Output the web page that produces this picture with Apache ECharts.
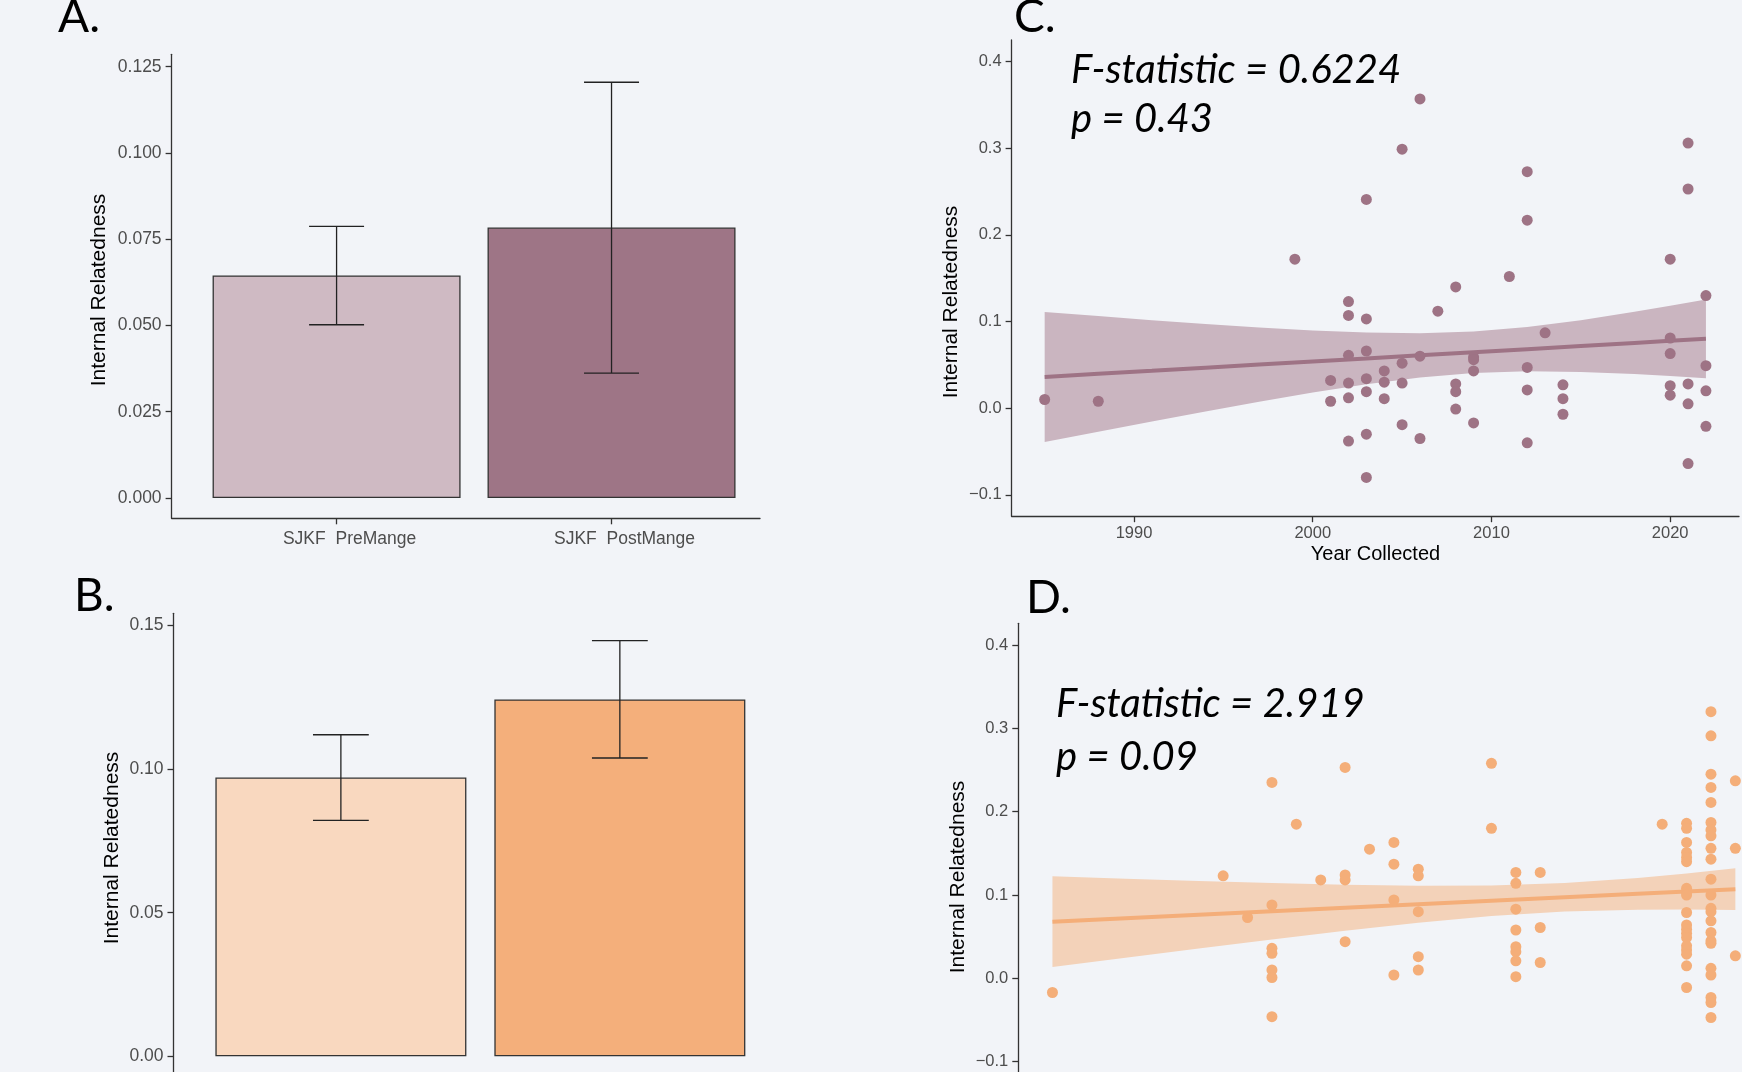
<!DOCTYPE html>
<html>
<head>
<meta charset="utf-8">
<script src="https://cdn.jsdelivr.net/npm/echarts@6/dist/echarts.min.js"></script>
<style>html,body{margin:0;padding:0;background:#f2f4f8;}#c{width:1742px;height:1072px;}</style>
</head>
<body>
<div id="c"></div>
<script>
// ---------- DATA ----------
const barCats = ['SJKF  PreMange', 'SJKF  PostMange'];
const aMean = [0.0645, 0.0784];
const aLo = [0.0502, 0.0362];
const aHi = [0.0787, 0.1205];
const bMean = [0.0971, 0.1243];
const bLo = [0.0822, 0.1039];
const bHi = [0.1120, 0.1448];

const aTicks = [0, 0.025, 0.05, 0.075, 0.1, 0.125];
const bTicks = [0, 0.05, 0.10, 0.15];
const cdYTicks = [-0.1, 0, 0.1, 0.2, 0.3, 0.4];
const cXTicks = [1990, 2000, 2010, 2020];

// Panel C points, grouped by year
const cYears = [1985, 1988, 1999, 2001, 2002, 2003, 2004, 2005, 2006, 2007, 2008, 2009, 2011, 2012, 2013, 2014, 2020, 2021, 2022];
const cValues = [
  [0.010],
  [0.008],
  [0.172],
  [0.032, 0.008],
  [0.123, 0.107, 0.061, 0.029, 0.012, -0.038],
  [0.241, 0.103, 0.066, 0.034, 0.019, -0.030, -0.080],
  [0.043, 0.030, 0.011],
  [0.299, 0.052, 0.029, -0.019],
  [0.357, 0.060, -0.035],
  [0.112],
  [0.140, 0.028, 0.019, -0.001],
  [0.059, 0.056, 0.043, -0.017],
  [0.152],
  [0.273, 0.217, 0.047, 0.021, -0.040],
  [0.087],
  [0.027, 0.011, -0.007],
  [0.172, 0.081, 0.063, 0.026, 0.015],
  [0.306, 0.253, 0.028, 0.005, -0.064],
  [0.130, 0.049, 0.020, -0.021]
];
// Panel C fitted line and confidence band
const cFitYear = [1985, 1988, 1991, 1994, 1997, 2000, 2003, 2006, 2009, 2012, 2015, 2018, 2020, 2022];
const cFit   = [0.0360, 0.0396, 0.0431, 0.0467, 0.0503, 0.0539, 0.0574, 0.0610, 0.0646, 0.0681, 0.0717, 0.0753, 0.0777, 0.0800];
const cUpper = [0.1111, 0.1063, 0.1016, 0.0972, 0.0932, 0.0898, 0.0873, 0.0866, 0.0886, 0.0937, 0.1016, 0.1112, 0.1182, 0.1254];
const cLower = [-0.0391, -0.0271, -0.0154, -0.0038, 0.0074, 0.0180, 0.0275, 0.0354, 0.0406, 0.0425, 0.0418, 0.0394, 0.0372, 0.0346];

// Panel D points, grouped by year
const dYears = [1994, 2001, 2002, 2003, 2004, 2005, 2006, 2007, 2008, 2009, 2012, 2013, 2014, 2019, 2020, 2021, 2022];
const dValues = [
  [-0.017],
  [0.123],
  [0.073],
  [0.235, 0.088, 0.036, 0.030, 0.010, 0.001, -0.046],
  [0.185],
  [0.118],
  [0.253, 0.124, 0.118, 0.044],
  [0.155],
  [0.163, 0.137, 0.094, 0.004],
  [0.131, 0.123, 0.080, 0.026, 0.010],
  [0.258, 0.180],
  [0.127, 0.114, 0.083, 0.058, 0.038, 0.032, 0.021, 0.002],
  [0.127, 0.061, 0.019],
  [0.185],
  [0.186, 0.180, 0.163, 0.151, 0.145, 0.140, 0.108, 0.104, 0.100, 0.079, 0.064, 0.059, 0.054, 0.049, 0.039, 0.034, 0.029, 0.015, -0.011],
  [0.320, 0.291, 0.245, 0.229, 0.211, 0.187, 0.178, 0.171, 0.156, 0.143, 0.119, 0.100, 0.084, 0.080, 0.069, 0.055, 0.045, 0.042, 0.012, 0.004, -0.023, -0.029, -0.047],
  [0.237, 0.156, 0.027]
];
const dFitYear = [1994, 1997, 2000, 2003, 2006, 2009, 2012, 2015, 2018, 2020, 2022];
const dFit   = [0.0680, 0.0722, 0.0764, 0.0805, 0.0847, 0.0889, 0.0931, 0.0973, 0.1014, 0.1042, 0.1070];
const dUpper = [0.1225, 0.1196, 0.1169, 0.1143, 0.1123, 0.1110, 0.1114, 0.1143, 0.1204, 0.1258, 0.1320];
const dLower = [0.0135, 0.0248, 0.0359, 0.0467, 0.0571, 0.0668, 0.0748, 0.0803, 0.0824, 0.0826, 0.0820];

// ---------- STYLE ----------
const BG = '#f2f4f8';
const aColors = ['#cfbac3', '#9e7586'];
const bColors = ['#f9d8bf', '#f4af7b'];
const cPoint = '#9e7385', cBand = '#cab5c0';
const dPoint = '#f4ae79', dBand = '#f3d2b9';
const FONT = '"Liberation Sans", Arial, sans-serif';
const AX = '#333';

function flatten(years, vals) {
  const out = [];
  years.forEach((y, i) => vals[i].forEach(v => out.push([y, v])));
  return out;
}
function zip(xs, ys) { return xs.map((x, i) => [x, ys[i]]); }

function fmt(dec) {
  return v => (v < 0 ? '\u2212' + Math.abs(v).toFixed(dec) : v.toFixed(dec));
}

function valAxis(gridIndex, min, max, ticks, formatter, fontSize, margin, labelExtra) {
  return {
    type: 'value', gridIndex, min, max,
    axisLine: { show: true, onZero: false, lineStyle: { color: AX, width: 1.3 } },
    axisTick: { show: true, length: 6, customValues: ticks, lineStyle: { color: AX, width: 1.3 } },
    axisLabel: Object.assign({ show: true, customValues: ticks, formatter, color: '#4d4d4d', fontSize, fontFamily: FONT, margin }, labelExtra || {}),
    splitLine: { show: false }
  };
}

function errRender(params, api) {
  const x = api.value(0), lo = api.value(1), hi = api.value(2);
  const top = api.coord([x, hi]), bot = api.coord([x, lo]);
  const hw = api.size([0.1, 0])[0];
  const st = { stroke: '#222', lineWidth: 1.3 };
  return {
    type: 'group', children: [
      { type: 'line', shape: { x1: top[0], y1: top[1], x2: bot[0], y2: bot[1] }, style: st },
      { type: 'line', shape: { x1: top[0] - hw, y1: top[1], x2: top[0] + hw, y2: top[1] }, style: st },
      { type: 'line', shape: { x1: bot[0] - hw, y1: bot[1], x2: bot[0] + hw, y2: bot[1] }, style: st }
    ]
  };
}

function bandSeries(xi, years, up, lo, color) {
  return {
    type: 'custom', xAxisIndex: xi, yAxisIndex: xi, z: 1, clip: false, silent: true,
    data: [[years[0], lo[0]]],
    renderItem: function (params, api) {
      const pts = [];
      for (let i = 0; i < years.length; i++) pts.push(api.coord([years[i], up[i]]));
      for (let i = years.length - 1; i >= 0; i--) pts.push(api.coord([years[i], lo[i]]));
      return { type: 'polygon', shape: { points: pts, smooth: 0 }, style: { fill: color } };
    }
  };
}

const catFmt = v => barCats[Math.round(v) - 1] || '';

const option = {
  backgroundColor: BG,
  animation: false,
  grid: [
    { left: 171.6, top: 54.3, width: 588.4, height: 464, outerBoundsMode: 'none' },
    { left: 173.5, top: 613.3, width: 597, height: 464.5, outerBoundsMode: 'none' },
    { left: 1011.6, top: 40, width: 727.4, height: 476.2, outerBoundsMode: 'none' },
    { left: 1018.3, top: 623.3, width: 751.2, height: 459.2, outerBoundsMode: 'none' }
  ],
  xAxis: [
    valAxis(0, 0.4, 2.54, [1, 2], catFmt, 17.5, 12, { padding: [0, 0, 0, 26] }),
    valAxis(1, 0.4, 2.54, [1, 2], catFmt, 17.5, 12, { padding: [0, 0, 0, 26] }),
    valAxis(2, 1983.15, 2023.85, cXTicks, v => String(v), 16.5, 9),
    valAxis(3, 1992.6, 2023.4, cXTicks, v => String(v), 16.5, 9)
  ],
  yAxis: [
    valAxis(0, -0.0059, 0.1286, aTicks, fmt(3), 17.5, 10),
    valAxis(1, -0.0075, 0.1543, bTicks, fmt(2), 17.5, 10),
    valAxis(2, -0.1247, 0.425, cdYTicks, fmt(1), 16.5, 10),
    valAxis(3, -0.125, 0.426, cdYTicks, fmt(1), 16.5, 10)
  ],
  series: [
    // Panel A
    {
      type: 'bar', xAxisIndex: 0, yAxisIndex: 0, barWidth: 248, z: 2,
      itemStyle: { borderColor: '#333', borderWidth: 1.3 },
      data: aMean.map((v, i) => ({ value: [i + 1, v], itemStyle: { color: aColors[i] } }))
    },
    {
      type: 'custom', xAxisIndex: 0, yAxisIndex: 0, z: 5, renderItem: errRender,
      encode: { x: 0, y: [1, 2] },
      data: aMean.map((m, i) => [i + 1, aLo[i], aHi[i]])
    },
    // Panel B
    {
      type: 'bar', xAxisIndex: 1, yAxisIndex: 1, barWidth: 251, z: 2,
      itemStyle: { borderColor: '#333', borderWidth: 1.3 },
      data: bMean.map((v, i) => ({ value: [i + 1, v], itemStyle: { color: bColors[i] } }))
    },
    {
      type: 'custom', xAxisIndex: 1, yAxisIndex: 1, z: 5, renderItem: errRender,
      encode: { x: 0, y: [1, 2] },
      data: bMean.map((m, i) => [i + 1, bLo[i], bHi[i]])
    },
    // Panel C
    bandSeries(2, cFitYear, cUpper, cLower, cBand),
    {
      type: 'line', xAxisIndex: 2, yAxisIndex: 2, z: 2, showSymbol: false, silent: true,
      lineStyle: { color: cPoint, width: 4 }, data: zip(cFitYear, cFit)
    },
    {
      type: 'scatter', xAxisIndex: 2, yAxisIndex: 2, z: 3, symbolSize: 11,
      itemStyle: { color: cPoint, opacity: 1 }, data: flatten(cYears, cValues)
    },
    // Panel D
    bandSeries(3, dFitYear, dUpper, dLower, dBand),
    {
      type: 'line', xAxisIndex: 3, yAxisIndex: 3, z: 2, showSymbol: false, silent: true,
      lineStyle: { color: dPoint, width: 4 }, data: zip(dFitYear, dFit)
    },
    {
      type: 'scatter', xAxisIndex: 3, yAxisIndex: 3, z: 3, symbolSize: 11, clip: false,
      itemStyle: { color: dPoint, opacity: 1 }, data: flatten(dYears, dValues)
    }
  ],
  graphic: [
    // panel letters
    { type: 'text', x: 58, y: 17, style: { text: 'A.', font: '46px Lato', fill: '#000', align: 'left', verticalAlign: 'middle' } },
    { type: 'text', x: 74, y: 596, style: { text: 'B.', font: '46px Lato', fill: '#000', align: 'left', verticalAlign: 'middle' } },
    { type: 'text', x: 1014, y: 17, style: { text: 'C.', font: '46px Lato', fill: '#000', align: 'left', verticalAlign: 'middle' } },
    { type: 'text', x: 1026, y: 598, style: { text: 'D.', font: '46px Lato', fill: '#000', align: 'left', verticalAlign: 'middle' } },
    // y-axis titles
    { type: 'text', x: 99.5, y: 290, rotation: Math.PI / 2, style: { text: 'Internal Relatedness', font: '21px ' + FONT, fill: '#000', align: 'center', verticalAlign: 'middle' } },
    { type: 'text', x: 112, y: 848, rotation: Math.PI / 2, style: { text: 'Internal Relatedness', font: '21px ' + FONT, fill: '#000', align: 'center', verticalAlign: 'middle' } },
    { type: 'text', x: 951, y: 302, rotation: Math.PI / 2, style: { text: 'Internal Relatedness', font: '21px ' + FONT, fill: '#000', align: 'center', verticalAlign: 'middle' } },
    { type: 'text', x: 958, y: 877, rotation: Math.PI / 2, style: { text: 'Internal Relatedness', font: '21px ' + FONT, fill: '#000', align: 'center', verticalAlign: 'middle' } },
    // x-axis title C
    { type: 'text', x: 1375.5, y: 554, style: { text: 'Year Collected', font: '20px ' + FONT, fill: '#000', align: 'center', verticalAlign: 'middle' } },
    // statistics annotations
    { type: 'text', x: 1071, y: 70, style: { text: 'F-statistic = 0.6224', font: 'italic 40px Lato', fill: '#000', align: 'left', verticalAlign: 'middle' } },
    { type: 'text', x: 1071, y: 119, style: { text: 'p = 0.43', font: 'italic 40px Lato', fill: '#000', align: 'left', verticalAlign: 'middle' } },
    { type: 'text', x: 1056, y: 704, style: { text: 'F-statistic = 2.919', font: 'italic 40px Lato', fill: '#000', align: 'left', verticalAlign: 'middle' } },
    { type: 'text', x: 1056, y: 757, style: { text: 'p = 0.09', font: 'italic 40px Lato', fill: '#000', align: 'left', verticalAlign: 'middle' } }
  ]
};

const chart = echarts.init(document.getElementById('c'), null, { renderer: 'canvas' });
chart.setOption(option);
</script>
</body>
</html>
